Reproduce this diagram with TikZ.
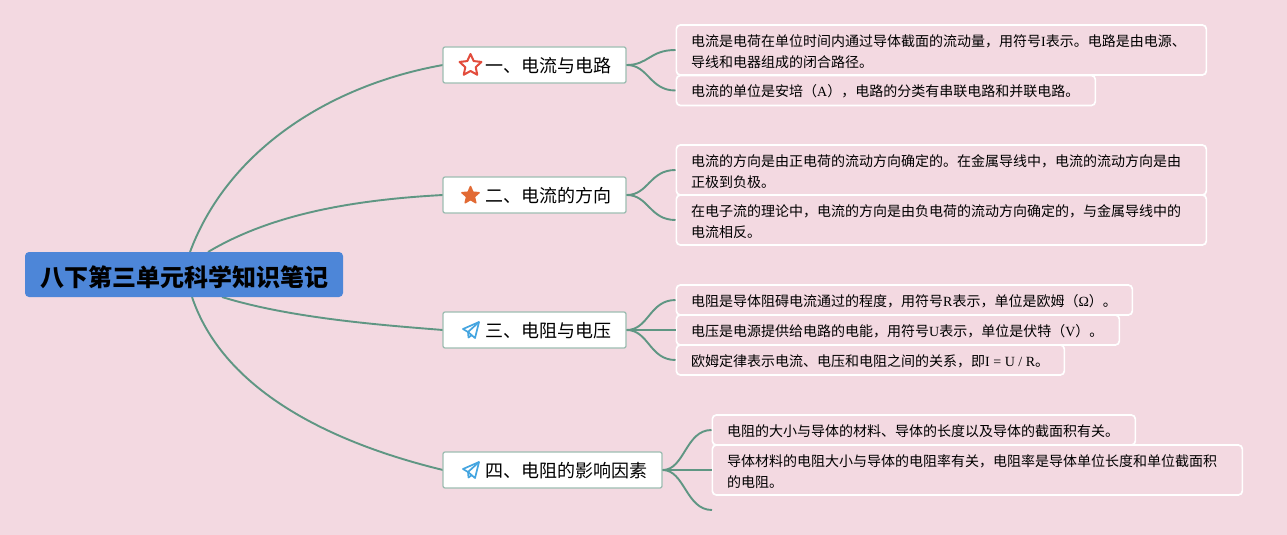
\documentclass[tikz,border=0pt]{standalone}
\usepackage{fontspec}
\setmainfont{Liberation Serif}
\newfontfamily\cjk{Noto Sans CJK SC}
\usetikzlibrary{shapes.geometric}
\definecolor{bgc}{HTML}{F3D9E1}
\definecolor{linec}{HTML}{5F9683}
\definecolor{rootc}{HTML}{4D86D8}
\definecolor{topb}{HTML}{9DBDB2}
\definecolor{planec}{HTML}{45A5E0}
\tikzset{
 x=1pt,y=-1pt,
 rootbox/.style={draw=none,fill=rootc,rounded corners=4pt,minimum width=318,minimum height=45,inner sep=0},
 roottext/.style={inner sep=0,font=\fontsize{24}{26}\selectfont\cjk\bfseries,text=black},
 topicbox/.style={draw=topb,line width=1.3pt,fill=white,rounded corners=2pt,minimum height=36,inner sep=0},
 topictext/.style={inner sep=0,anchor=west,font=\fontsize{18}{22}\selectfont\cjk,text=black},
 leafbox/.style={draw=white,line width=1.7pt,fill=bgc,rounded corners=4pt,inner sep=0,anchor=west},
 leaftext/.style={inner sep=0,anchor=west,align=left,font=\fontsize{14}{21}\selectfont\cjk,text=black},
 conn/.style={draw=linec,line width=1.9pt}
}
\begin{document}
\begin{tikzpicture}
\useasboundingbox (0,0) rectangle (1287,535);
\fill[bgc] (0,0) rectangle (1287,535);
% connector ends
\coordinate (r1) at (190,252);
\coordinate (r2) at (208,252);
\coordinate (r3) at (222,297);
\coordinate (r4) at (192,297);
\coordinate (t1) at (443,65);
\coordinate (t2) at (443,195);
\coordinate (t3) at (443,330);
\coordinate (t4) at (443,470);
\draw[conn] (r1) .. controls (228,150) and (330,85) .. (t1);
\draw[conn] (r2) .. controls (270,215) and (350,200) .. (t2);
\draw[conn] (r3) .. controls (290,318) and (380,325) .. (t3);
\draw[conn] (r4) .. controls (225,395) and (340,445) .. (t4);
% root
\node[rootbox] (root) at (184,274.5) {};
\node[roottext] (rootlabel) at (184.5,277) {八下第三单元科学知识笔记};
% topics
\node[topicbox,minimum width=183] (a) at (534.5,65) {};
\node[topicbox,minimum width=183] (b) at (534.5,195) {};
\node[topicbox,minimum width=183] (c) at (534.5,330) {};
\node[topicbox,minimum width=219] (d) at (552.5,470) {};
\node[topictext] (ta) at (485,66) {一、电流与电路};
\node[topictext] (tb) at (485,196) {二、电流的方向};
\node[topictext] (tc) at (485,331) {三、电阻与电压};
\node[topictext] (td) at (485,471) {四、电阻的影响因素};
% icons
\node[star,star points=5,star point ratio=2.1,minimum size=23,inner sep=0,draw={rgb,255:red,226;green,76;blue,60},line width=2pt,line join=round,fill=white] (i1) at (470.5,65.5) {};
\node[star,star points=5,star point ratio=2.2,minimum size=18,inner sep=0,draw={rgb,255:red,226;green,106;blue,52},line width=1.5pt,line join=round,fill={rgb,255:red,226;green,106;blue,52}] (i2) at (470.5,195.5) {};
\foreach \n/\cy in {i3/330,i4/470}{
 \coordinate (\n) at (471,\cy);
 \draw[planec,line width=1.7pt,line join=round,fill=white] ([shift={(8,-8)}]\n) -- ([shift={(-8,-1)}]\n) -- ([shift={(-3,2)}]\n) -- ([shift={(4,8)}]\n) -- cycle;
 \draw[planec,line width=1.7pt,line join=round] ([shift={(8,-8)}]\n) -- ([shift={(-3,2)}]\n) -- ([shift={(-2.5,7.5)}]\n) -- ([shift={(1,5)}]\n);
}
% leaves
\node[leafbox,minimum width=530,minimum height=50] (a1) at (675.5,50) {};
\node[leafbox,minimum width=419,minimum height=30] (a2) at (675.5,90.5) {};
\node[leafbox,minimum width=530,minimum height=50] (b1) at (675.5,170) {};
\node[leafbox,minimum width=530,minimum height=50] (b2) at (675.5,220) {};
\node[leafbox,minimum width=456,minimum height=30] (c1) at (675.5,300) {};
\node[leafbox,minimum width=443,minimum height=30] (c2) at (675.5,330) {};
\node[leafbox,minimum width=388,minimum height=30] (c3) at (675.5,360) {};
\node[leafbox,minimum width=423,minimum height=30] (d1) at (711.5,430) {};
\node[leafbox,minimum width=530,minimum height=50] (d2) at (711.5,470) {};
\coordinate (d3) at (712,510);
% branches
\foreach \p/\q in {a/a1,a/a2,b/b1,b/b2,c/c1,c/c3,d/d1,d/d3}{
 \draw[conn] (\p.east) .. controls ([xshift=22]\p.east) and ([xshift=-26]\q.west) .. (\q.west);
}
\draw[conn] (c.east) -- (c2.west);
\draw[conn] (d.east) -- (d2.west);
% leaf texts
\node[leaftext] (ta1) at (691,52) {电流是电荷在单位时间内通过导体截面的流动量，用符号\textrm{I}表示。电路是由电源、\\导线和电器组成的闭合路径。};
\node[leaftext] (ta2) at (691,91.5) {电流的单位是安培（\textrm{A}），电路的分类有串联电路和并联电路。};
\node[leaftext] (tb1) at (691,172) {电流的方向是由正电荷的流动方向确定的。在金属导线中，电流的流动方向是由\\正极到负极。};
\node[leaftext] (tb2) at (691,222) {在电子流的理论中，电流的方向是由负电荷的流动方向确定的，与金属导线中的\\电流相反。};
\node[leaftext] (tc1) at (691,301) {电阻是导体阻碍电流通过的程度，用符号\textrm{R}表示，单位是欧姆（\textrm{Ω}）。};
\node[leaftext] (tc2) at (691,331) {电压是电源提供给电路的电能，用符号\textrm{U}表示，单位是伏特（\textrm{V}）。};
\node[leaftext] (tc3) at (691,361) {欧姆定律表示电流、电压和电阻之间的关系，即\textrm{I = U / R}。};
\node[leaftext] (td1) at (727,431) {电阻的大小与导体的材料、导体的长度以及导体的截面积有关。};
\node[leaftext] (td2) at (727,472) {导体材料的电阻大小与导体的电阻率有关，电阻率是导体单位长度和单位截面积\\的电阻。};
\end{tikzpicture}
\end{document}
